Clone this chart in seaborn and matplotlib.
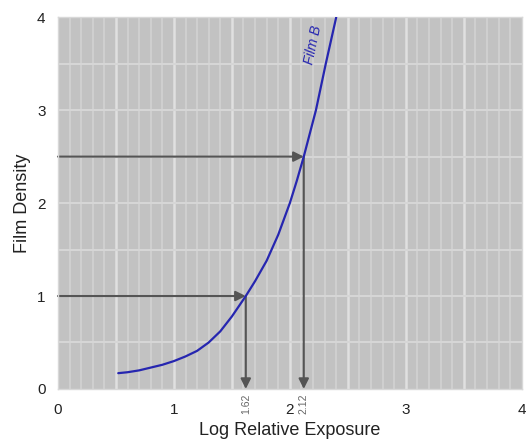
import numpy as np
import pandas as pd
import matplotlib
matplotlib.use("Agg")
import matplotlib.pyplot as plt
import seaborn as sns

# Characteristic (H&D) curve of Film B
log_exposure = [0.52, 0.60, 0.70, 0.80, 0.90, 1.00, 1.10, 1.20, 1.30, 1.40, 1.50,
                1.62, 1.70, 1.80, 1.90, 2.00, 2.06, 2.12, 2.225, 2.31, 2.40]
density = [0.17, 0.18, 0.20, 0.23, 0.26, 0.30, 0.35, 0.41, 0.50, 0.62, 0.78,
           1.00, 1.16, 1.38, 1.66, 2.00, 2.24, 2.50, 3.00, 3.50, 4.00]

# Read-off examples: density -> log exposure
readoff_density = [1.0, 2.5]
readoff_exposure = [1.62, 2.12]
readoff_labels = ["1.62", "2.12"]

x_ticks = [0, 1, 2, 3, 4]
y_ticks = [0, 1, 2, 3, 4]

sns.set_style("white", {"axes.facecolor": "#c2c2c2", "axes.edgecolor": "#d8d8d8"})
plt.rcParams["font.family"] = ["Liberation Sans", "DejaVu Sans"]

fig = plt.figure(figsize=(5.27, 4.41), dpi=100)
ax = fig.add_axes([0.110, 0.118, 0.880, 0.843])

ax.set_xlim(0, 4)
ax.set_ylim(0, 4)

# Fine grid: every 0.1 in exposure (brighter every 0.5), every 0.5 in density
for v in np.arange(1, 40):
    xv = v / 10
    if v % 5 == 0:
        ax.axvline(xv, color="#e0e0e0", lw=1.8, zorder=0.5)
    else:
        ax.axvline(xv, color="#cfcfcf", lw=1.5, zorder=0.4)
for h in np.arange(1, 8):
    ax.axhline(h / 2, color="#d6d6d6", lw=1.5, zorder=0.6)

df = pd.DataFrame({"Log Relative Exposure": log_exposure, "Film Density": density})
sns.lineplot(data=df, x="Log Relative Exposure", y="Film Density", ax=ax,
             color="#2626b0", lw=1.6, sort=False, zorder=3)

arrow_kw = dict(arrowstyle="-|>,head_length=0.6,head_width=0.3", color="#555555",
                lw=1.5, mutation_scale=10, shrinkA=0, shrinkB=0)
for d, e, lab in zip(readoff_density, readoff_exposure, readoff_labels):
    ax.annotate("", xy=(e, d), xytext=(0, d), arrowprops=arrow_kw, zorder=2)
    ax.annotate("", xy=(e, 0), xytext=(e, d), arrowprops=arrow_kw, zorder=2)
    ax.annotate(lab, xy=(e, 0), xytext=(0, -3), textcoords="offset points",
                rotation=90, ha="center", va="top", fontsize=7.5, color="#666666",
                annotation_clip=False)

ax.text(2.20, 3.70, "Film B", rotation=78, color="#2626b0", fontsize=10,
        style="italic", ha="center", va="center", zorder=4)

ax.set_xticks(x_ticks)
ax.set_yticks(y_ticks)
ax.set_xticklabels([str(t) for t in x_ticks])
ax.set_yticklabels([str(t) for t in y_ticks])
ax.tick_params(axis="both", length=0, labelsize=11, colors="#222222")
ax.tick_params(axis="x", pad=10)
ax.tick_params(axis="y", pad=9)
ax.set_xlabel("Log Relative Exposure", fontsize=13, color="#222222", labelpad=4)
ax.set_ylabel("Film Density", fontsize=13, color="#222222", labelpad=4)
for s in ax.spines.values():
    s.set_color("#d8d8d8")
    s.set_linewidth(1.0)

fig.savefig("out.png", dpi=100, facecolor="white")
